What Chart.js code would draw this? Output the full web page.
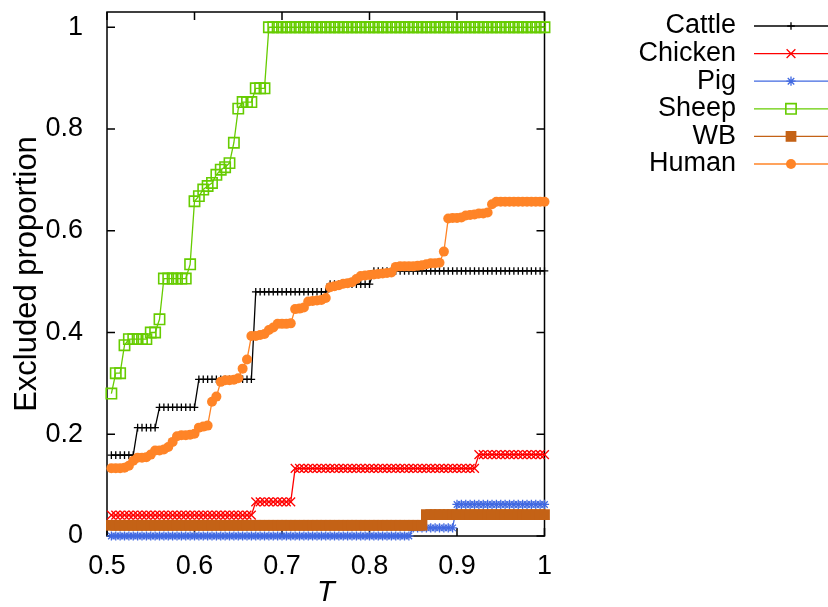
<!DOCTYPE html>
<html>
<head>
<meta charset="utf-8">
<script src="https://cdn.jsdelivr.net/npm/chart.js@4.4.1/dist/chart.umd.min.js"></script>
<style>
  body { margin: 0; background: #fff; }
</style>
</head>
<body>
<canvas id="chart" width="828" height="607"></canvas>
<script>
// Data
const tValues = [
  0.505, 0.51, 0.515, 0.52, 0.525, 0.53, 0.535, 0.54, 0.545, 0.55,
  0.555, 0.56, 0.565, 0.57, 0.575, 0.58, 0.585, 0.59, 0.595, 0.6,
  0.605, 0.61, 0.615, 0.62, 0.625, 0.63, 0.635, 0.64, 0.645, 0.65,
  0.655, 0.66, 0.665, 0.67, 0.675, 0.68, 0.685, 0.69, 0.695, 0.7,
  0.705, 0.71, 0.715, 0.72, 0.725, 0.73, 0.735, 0.74, 0.745, 0.75,
  0.755, 0.76, 0.765, 0.77, 0.775, 0.78, 0.785, 0.79, 0.795, 0.8,
  0.805, 0.81, 0.815, 0.82, 0.825, 0.83, 0.835, 0.84, 0.845, 0.85,
  0.855, 0.86, 0.865, 0.87, 0.875, 0.88, 0.885, 0.89, 0.895, 0.9,
  0.905, 0.91, 0.915, 0.92, 0.925, 0.93, 0.935, 0.94, 0.945, 0.95,
  0.955, 0.96, 0.965, 0.97, 0.975, 0.98, 0.985, 0.99, 0.995, 1
];

const cattle = [
  0.159, 0.159, 0.159, 0.159, 0.159, 0.159, 0.213, 0.213, 0.213, 0.213,
  0.213, 0.253, 0.253, 0.253, 0.253, 0.253, 0.253, 0.253, 0.253, 0.253,
  0.308, 0.308, 0.308, 0.308, 0.308, 0.308, 0.308, 0.308, 0.308, 0.308,
  0.308, 0.308, 0.308, 0.48, 0.48, 0.48, 0.48, 0.48, 0.48, 0.48,
  0.48, 0.48, 0.48, 0.48, 0.48, 0.48, 0.48, 0.48, 0.48, 0.48,
  0.495, 0.495, 0.495, 0.495, 0.495, 0.495, 0.495, 0.495, 0.495, 0.495,
  0.521, 0.521, 0.521, 0.521, 0.521, 0.521, 0.521, 0.521, 0.521, 0.521,
  0.521, 0.521, 0.521, 0.521, 0.521, 0.521, 0.521, 0.521, 0.521, 0.521,
  0.521, 0.521, 0.521, 0.521, 0.521, 0.521, 0.521, 0.521, 0.521, 0.521,
  0.521, 0.521, 0.521, 0.521, 0.521, 0.521, 0.521, 0.521, 0.521, 0.521
];

const chicken = [
  0.041, 0.041, 0.041, 0.041, 0.041, 0.041, 0.041, 0.041, 0.041, 0.041,
  0.041, 0.041, 0.041, 0.041, 0.041, 0.041, 0.041, 0.041, 0.041, 0.041,
  0.041, 0.041, 0.041, 0.041, 0.041, 0.041, 0.041, 0.041, 0.041, 0.041,
  0.041, 0.041, 0.041, 0.067, 0.067, 0.067, 0.067, 0.067, 0.067, 0.067,
  0.067, 0.067, 0.133, 0.133, 0.133, 0.133, 0.133, 0.133, 0.133, 0.133,
  0.133, 0.133, 0.133, 0.133, 0.133, 0.133, 0.133, 0.133, 0.133, 0.133,
  0.133, 0.133, 0.133, 0.133, 0.133, 0.133, 0.133, 0.133, 0.133, 0.133,
  0.133, 0.133, 0.133, 0.133, 0.133, 0.133, 0.133, 0.133, 0.133, 0.133,
  0.133, 0.133, 0.133, 0.133, 0.16, 0.16, 0.16, 0.16, 0.16, 0.16,
  0.16, 0.16, 0.16, 0.16, 0.16, 0.16, 0.16, 0.16, 0.16, 0.16
];

const pig = [
  0, 0, 0, 0, 0, 0, 0, 0, 0, 0,
  0, 0, 0, 0, 0, 0, 0, 0, 0, 0,
  0, 0, 0, 0, 0, 0, 0, 0, 0, 0,
  0, 0, 0, 0, 0, 0, 0, 0, 0, 0,
  0, 0, 0, 0, 0, 0, 0, 0, 0, 0,
  0, 0, 0, 0, 0, 0, 0, 0, 0, 0,
  0, 0, 0, 0, 0, 0, 0, 0, 0, 0.016,
  0.016, 0.016, 0.016, 0.016, 0.016, 0.016, 0.016, 0.016, 0.016, 0.062,
  0.062, 0.062, 0.062, 0.062, 0.062, 0.062, 0.062, 0.062, 0.062, 0.062,
  0.062, 0.062, 0.062, 0.062, 0.062, 0.062, 0.062, 0.062, 0.062, 0.062
];

const sheep = [
  0.28, 0.32, 0.32, 0.375, 0.387, 0.387, 0.387, 0.387, 0.387, 0.4,
  0.4, 0.426, 0.506, 0.506, 0.506, 0.506, 0.506, 0.506, 0.534, 0.658,
  0.668, 0.681, 0.688, 0.694, 0.71, 0.72, 0.725, 0.733, 0.773, 0.84,
  0.853, 0.853, 0.853, 0.88, 0.88, 0.88, 1, 1, 1, 1,
  1, 1, 1, 1, 1, 1, 1, 1, 1, 1,
  1, 1, 1, 1, 1, 1, 1, 1, 1, 1,
  1, 1, 1, 1, 1, 1, 1, 1, 1, 1,
  1, 1, 1, 1, 1, 1, 1, 1, 1, 1,
  1, 1, 1, 1, 1, 1, 1, 1, 1, 1,
  1, 1, 1, 1, 1, 1, 1, 1, 1, 1
];

const wb = [
  0.021, 0.021, 0.021, 0.021, 0.021, 0.021, 0.021, 0.021, 0.021, 0.021,
  0.021, 0.021, 0.021, 0.021, 0.021, 0.021, 0.021, 0.021, 0.021, 0.021,
  0.021, 0.021, 0.021, 0.021, 0.021, 0.021, 0.021, 0.021, 0.021, 0.021,
  0.021, 0.021, 0.021, 0.021, 0.021, 0.021, 0.021, 0.021, 0.021, 0.021,
  0.021, 0.021, 0.021, 0.021, 0.021, 0.021, 0.021, 0.021, 0.021, 0.021,
  0.021, 0.021, 0.021, 0.021, 0.021, 0.021, 0.021, 0.021, 0.021, 0.021,
  0.021, 0.021, 0.021, 0.021, 0.021, 0.021, 0.021, 0.021, 0.021, 0.021,
  0.021, 0.021, 0.042, 0.042, 0.042, 0.042, 0.042, 0.042, 0.042, 0.042,
  0.042, 0.042, 0.042, 0.042, 0.042, 0.042, 0.042, 0.042, 0.042, 0.042,
  0.042, 0.042, 0.042, 0.042, 0.042, 0.042, 0.042, 0.042, 0.042, 0.042
];

const human = [
  0.133, 0.133, 0.133, 0.134, 0.138, 0.148, 0.154, 0.154, 0.155, 0.16,
  0.168, 0.168, 0.17, 0.175, 0.185, 0.196, 0.198, 0.198, 0.199, 0.201,
  0.213, 0.215, 0.217, 0.264, 0.274, 0.303, 0.306, 0.306, 0.307, 0.31,
  0.329, 0.347, 0.393, 0.393, 0.395, 0.397, 0.405, 0.41, 0.417, 0.417,
  0.417, 0.418, 0.446, 0.447, 0.449, 0.461, 0.462, 0.463, 0.464, 0.468,
  0.489, 0.491, 0.493, 0.496, 0.497, 0.499, 0.505, 0.511, 0.512, 0.513,
  0.514, 0.515, 0.516, 0.517, 0.518, 0.529, 0.53, 0.53, 0.53, 0.53,
  0.531, 0.532, 0.534, 0.536, 0.536, 0.537, 0.559, 0.624, 0.625, 0.625,
  0.626, 0.63, 0.631, 0.632, 0.634, 0.634, 0.636, 0.652, 0.657, 0.657,
  0.657, 0.657, 0.657, 0.657, 0.657, 0.657, 0.657, 0.657, 0.657, 0.657
];

const yTicks = [0, 0.2, 0.4, 0.6, 0.8, 1];

const FONT = '"Liberation Sans", Arial, Helvetica, sans-serif';
Chart.defaults.font.family = FONT;
Chart.defaults.color = '#000';

function series(label, values, color, style, radius, fill, bw, order) {
  return {
    label,
    data: values.map((v, i) => ({ x: tValues[i], y: v })),
    borderColor: color,
    backgroundColor: fill,
    pointBackgroundColor: fill,
    pointBorderColor: color,
    borderWidth: 1.3,
    pointBorderWidth: bw,
    pointStyle: style,
    pointRadius: radius,
    pointHoverRadius: radius,
    tension: 0,
    fill: false,
    clip: false,
    order
  };
}

const fmt = v => String(+Number(v).toFixed(1));

// frame, inward ticks on all sides, and gnuplot style key
const framePlugin = {
  id: 'framePlugin',
  beforeDatasetsDraw(chart) {
    const { ctx, chartArea: a, scales: { x, y } } = chart;
    ctx.save();
    ctx.strokeStyle = '#000';
    ctx.lineWidth = 1.5;
    ctx.strokeRect(a.left, a.top, a.right - a.left, a.bottom - a.top);
    ctx.beginPath();
    x.ticks.forEach(t => {
      const px = x.getPixelForValue(t.value);
      ctx.moveTo(px, a.bottom); ctx.lineTo(px, a.bottom - 8);
      ctx.moveTo(px, a.top); ctx.lineTo(px, a.top + 8);
    });
    y.ticks.forEach(t => {
      const py = y.getPixelForValue(t.value);
      ctx.moveTo(a.left, py); ctx.lineTo(a.left + 8, py);
      ctx.moveTo(a.right, py); ctx.lineTo(a.right - 8, py);
    });
    ctx.stroke();
    ctx.restore();
  },
  afterDraw(chart) {
    const ctx = chart.ctx;
    ctx.save();
    chart.data.datasets.forEach((ds, k) => {
      const yy = 26 + k * 27.6;
      ctx.fillStyle = '#000';
      ctx.font = '27px ' + FONT;
      ctx.textAlign = 'right';
      ctx.textBaseline = 'middle';
      ctx.fillText(ds.label, 736, yy);
      ctx.strokeStyle = ds.borderColor;
      ctx.lineWidth = ds.borderWidth;
      ctx.beginPath();
      ctx.moveTo(754, yy);
      ctx.lineTo(828, yy);
      ctx.stroke();
      ctx.fillStyle = ds.pointBackgroundColor;
      ctx.lineWidth = ds.pointBorderWidth;
      Chart.helpers.drawPoint(ctx, {
        pointStyle: ds.pointStyle, radius: ds.pointRadius, rotation: 0, borderWidth: ds.pointBorderWidth
      }, 791, yy);
    });
    ctx.restore();
  }
};

new Chart(document.getElementById('chart'), {
  type: 'line',
  data: {
    datasets: [
      series('Cattle', cattle, '#000000', 'cross', 3.8, 'rgba(0,0,0,0)', 1.3, 6),
      series('Chicken', chicken, '#ff0000', 'crossRot', 6.2, 'rgba(0,0,0,0)', 1.3, 5),
      series('Pig', pig, '#4169e1', 'star', 4.6, 'rgba(0,0,0,0)', 1.3, 4),
      series('Sheep', sheep, '#66cc00', 'rect', 7.3, 'rgba(0,0,0,0)', 1.6, 3),
      series('WB', wb, '#c46216', 'rect', 7.6, '#c46216', 0, 2),
      series('Human', human, '#ff8427', 'circle', 5, '#ff8427', 0, 1)
    ]
  },
  options: {
    responsive: false,
    devicePixelRatio: 1,
    animation: false,
    layout: { padding: { left: 0, right: 283.5, top: 12, bottom: 0 } },
    plugins: { legend: { display: false }, tooltip: { enabled: false } },
    scales: {
      x: {
        type: 'linear',
        min: 0.5,
        max: 1,
        grid: { display: false },
        border: { display: false },
        ticks: { stepSize: 0.1, font: { size: 27 }, color: '#000', padding: 6, maxRotation: 0, autoSkip: false, callback: fmt },
        title: { display: true, text: 'T', font: { size: 29, style: 'italic' }, color: '#000', padding: { top: 0, bottom: -3 } },
        afterFit(scale) {
          scale.height = 71;
          scale.paddingLeft = 0;
          scale.paddingRight = 0;
        }
      },
      y: {
        min: 0,
        max: 1.03,
        grid: { display: false },
        border: { display: false },
        afterBuildTicks(scale) { scale.ticks = yTicks.map(v => ({ value: v })); },
        ticks: { font: { size: 27 }, color: '#000', padding: 16, callback: fmt },
        title: { display: true, text: 'Excluded proportion', font: { size: 31 }, color: '#000', padding: { top: 9, bottom: 0 } },
        afterFit(scale) {
          scale.width = 107;
          scale.paddingTop = 0;
          scale.paddingBottom = 0;
        }
      }
    }
  },
  plugins: [framePlugin]
});
</script>
</body>
</html>
